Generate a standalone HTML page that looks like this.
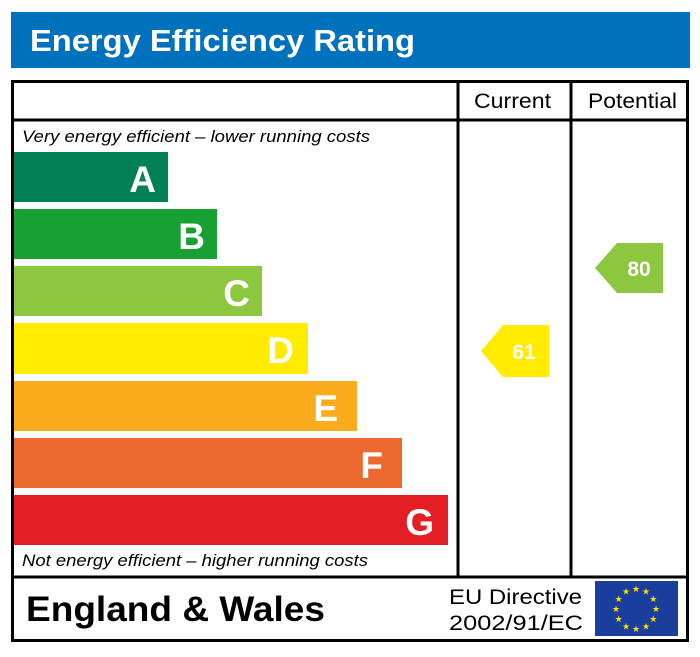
<!DOCTYPE html>
<html><head><style>
body{margin:0;background:#fff;}
</style></head><body>
<svg width="700" height="652" xmlns="http://www.w3.org/2000/svg" font-family="Liberation Sans, Arial, sans-serif">
<rect x="11" y="12" width="679" height="56" fill="#0071bc"/>
<text x="30" y="51" font-size="31" font-weight="bold" fill="#fff" textLength="385" lengthAdjust="spacingAndGlyphs">Energy Efficiency Rating</text>
<rect x="12.5" y="81.5" width="675" height="559" fill="none" stroke="#000" stroke-width="3"/>
<line x1="12" y1="120" x2="688" y2="120" stroke="#000" stroke-width="3"/>
<line x1="12" y1="577" x2="688" y2="577" stroke="#000" stroke-width="3"/>
<line x1="458" y1="81" x2="458" y2="577" stroke="#000" stroke-width="3"/>
<line x1="571" y1="81" x2="571" y2="577" stroke="#000" stroke-width="3"/>
<text x="474" y="108" font-size="21" textLength="77" lengthAdjust="spacingAndGlyphs">Current</text>
<text x="588" y="108" font-size="21" textLength="89" lengthAdjust="spacingAndGlyphs">Potential</text>
<text x="22" y="142" font-size="17" font-style="italic" textLength="348" lengthAdjust="spacingAndGlyphs">Very energy efficient – lower running costs</text>
<text x="22" y="566" font-size="17" font-style="italic" textLength="346" lengthAdjust="spacingAndGlyphs">Not energy efficient – higher running costs</text>
<g font-size="37" font-weight="bold" fill="#fff" text-anchor="end">
<rect x="14" y="152" width="154" height="50" fill="#008054"/><text x="156" y="192">A</text>
<rect x="14" y="209" width="203" height="50" fill="#19a032"/><text x="205" y="249">B</text>
<rect x="14" y="266" width="248" height="50" fill="#8dc63f"/><text x="250" y="306">C</text>
<rect x="14" y="323" width="294" height="51" fill="#ffec00"/><text x="294" y="363">D</text>
<rect x="14" y="381" width="343" height="50" fill="#fbac1d"/><text x="338" y="421">E</text>
<rect x="14" y="438" width="388" height="50" fill="#ec6930"/><text x="383" y="478">F</text>
<rect x="14" y="495" width="434" height="50" fill="#e31e25"/><text x="434" y="535">G</text>
</g>
<polygon points="481,351 503,325 549,325 549,377 503,377" fill="#ffec00"/>
<text x="524" y="359" font-size="21" font-weight="bold" fill="#fff" text-anchor="middle">61</text>
<polygon points="595,268 617,243 663,243 663,293 617,293" fill="#8dc63f"/>
<text x="639" y="276" font-size="21" font-weight="bold" fill="#fff" text-anchor="middle">80</text>
<text x="26" y="621" font-size="35" font-weight="bold" textLength="299" lengthAdjust="spacingAndGlyphs">England &amp; Wales</text>
<text x="449" y="604" font-size="21" textLength="133" lengthAdjust="spacingAndGlyphs">EU Directive</text>
<text x="449" y="630" font-size="21" textLength="134" lengthAdjust="spacingAndGlyphs">2002/91/EC</text>
<rect x="595" y="581" width="83" height="55" fill="#1a3e9c"/>
<g fill="#ffde00" font-size="9" text-anchor="middle">
<text x="636" y="592">★</text><text x="646" y="594.7">★</text><text x="653.3" y="602">★</text><text x="656" y="612">★</text><text x="653.3" y="622">★</text><text x="646" y="629.3">★</text><text x="636" y="632">★</text><text x="626" y="629.3">★</text><text x="618.7" y="622">★</text><text x="616" y="612">★</text><text x="618.7" y="602">★</text><text x="626" y="594.7">★</text>
</g>
</svg>
</body></html>
